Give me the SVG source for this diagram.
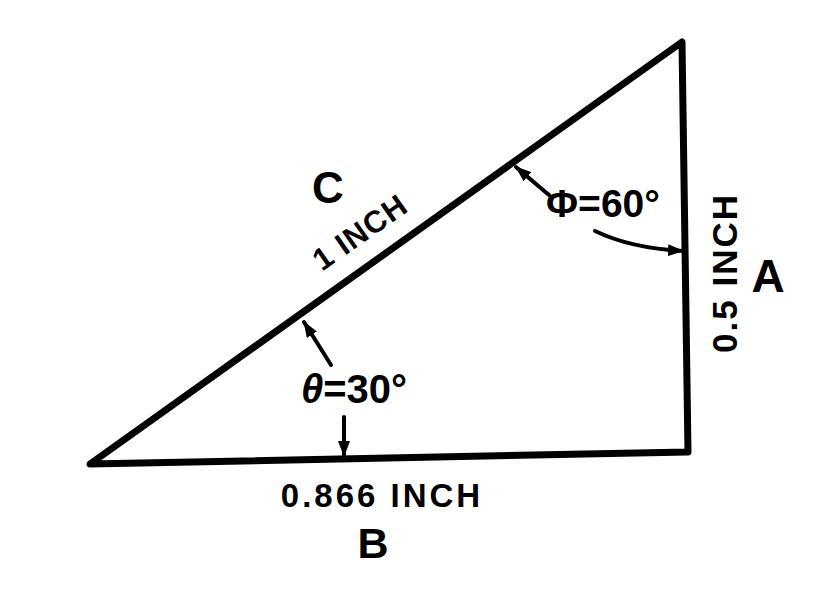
<svg xmlns="http://www.w3.org/2000/svg" width="816" height="594" viewBox="0 0 816 594">
<defs>
<style>
.t{font-family:"Liberation Sans",Arial,sans-serif;font-weight:bold;fill:#000}
.ln{stroke:#000;fill:none;stroke-linecap:round;stroke-linejoin:round}
</style>
<marker id="ah" viewBox="0 0 16 12" refX="15" refY="6" markerWidth="16" markerHeight="12" orient="auto" markerUnits="userSpaceOnUse">
<path d="M0,0 L16,6 L0,12 Z" fill="#000"/>
</marker>
</defs>
<rect width="816" height="594" fill="#fff"/>
<g id="triangle">
<path class="ln" stroke-width="7" d="M90,464 L682,42 L688,452 Z"/>
</g>
<g id="connectors">
<path class="ln" stroke-width="4" d="M331,365 L304,322" marker-end="url(#ah)"/>
<path class="ln" stroke-width="4" d="M344,417 L344,456" marker-end="url(#ah)"/>
<path class="ln" stroke-width="4" d="M549,195 L516,167" marker-end="url(#ah)"/>
<path class="ln" stroke-width="4" d="M595,231 Q630,248 683,251" marker-end="url(#ah)"/>
</g>
<g id="labels">
<text class="t" x="328" y="203" font-size="44" text-anchor="middle">C</text>
<text class="t" x="0" y="0" font-size="31" text-anchor="middle" letter-spacing="1" transform="translate(366,241) rotate(-35)">1 INCH</text>
<text class="t" x="603" y="217" font-size="39" text-anchor="middle">Φ=60°</text>
<text class="t" x="354" y="403" font-size="40" text-anchor="middle" font-style="italic">θ<tspan font-style="normal">=30°</tspan></text>
<text class="t" x="0" y="0" font-size="35" text-anchor="middle" letter-spacing="2" transform="translate(737,273) rotate(-90)">0.5 INCH</text>
<text class="t" x="768" y="292" font-size="46" text-anchor="middle">A</text>
<text class="t" x="382" y="507" font-size="33" text-anchor="middle" letter-spacing="3">0.866 INCH</text>
<text class="t" x="373" y="558" font-size="43" text-anchor="middle">B</text>
</g>
</svg>
